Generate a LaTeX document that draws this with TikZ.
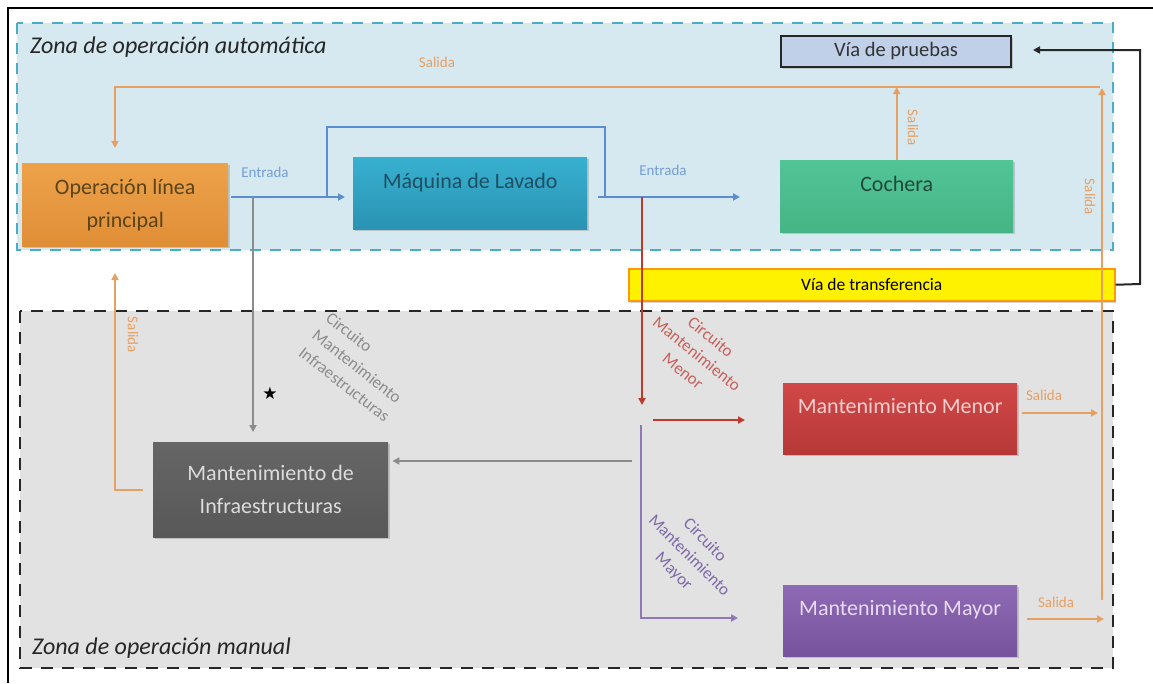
\documentclass[tikz,border=0pt]{standalone}
\usepackage{fontspec}
\setmainfont{Carlito}
\newfontfamily\symfont{DejaVu Sans}
\usetikzlibrary{arrows.meta,shadows}
\definecolor{zblue}{HTML}{D6E9F0}
\definecolor{zdash}{HTML}{4BACC6}
\definecolor{zgray}{HTML}{E2E2E2}
\definecolor{corange}{HTML}{E8A062}
\definecolor{cblue}{HTML}{5B8ED0}
\definecolor{cgray}{HTML}{8C8C8C}
\definecolor{cred}{HTML}{C0392B}
\definecolor{cpurple}{HTML}{8F78B8}
\definecolor{lred}{HTML}{C8605A}
\definecolor{lpurple}{HTML}{8068A8}
\definecolor{opT}{HTML}{EDA24A}
\definecolor{opB}{HTML}{E08E36}
\definecolor{opX}{HTML}{5A4418}
\definecolor{maT}{HTML}{38B0D0}
\definecolor{maB}{HTML}{2A93B3}
\definecolor{maX}{HTML}{1F4F63}
\definecolor{coT}{HTML}{52C496}
\definecolor{coB}{HTML}{46B585}
\definecolor{coX}{HTML}{1F4A3A}
\definecolor{inT}{HTML}{666666}
\definecolor{inB}{HTML}{585858}
\definecolor{inX}{HTML}{DCDCDC}
\definecolor{mnT}{HTML}{D04848}
\definecolor{mnB}{HTML}{B83838}
\definecolor{mnX}{HTML}{F2CFCF}
\definecolor{myT}{HTML}{8E6AB4}
\definecolor{myB}{HTML}{76539C}
\definecolor{myX}{HTML}{E8DAF4}
\definecolor{prF}{HTML}{BFD0E8}
\tikzset{
  zoneA/.style={fill=zblue, draw=zdash, line width=2pt, dash pattern=on 11pt off 9pt},
  zoneM/.style={fill=zgray, draw=black!85, line width=2.6pt, dash pattern=on 12pt off 9pt},
  box/.style={anchor=north west, inner sep=0pt, align=center,
    font=\fontsize{22}{33}\selectfont,
    drop shadow={shadow xshift=1.5pt, shadow yshift=-2pt, opacity=0.35}},
  upshift/.style={text height=15pt, text depth=25pt},
  tip/.style={-{Triangle[width=7pt,length=7pt]}},
  oline/.style={draw=corange, line width=2pt},
  bline/.style={draw=cblue, line width=2.4pt},
  gline/.style={draw=cgray, line width=2pt},
  rline/.style={draw=cred, line width=2pt},
  pline/.style={draw=cpurple, line width=2pt},
  kline/.style={draw=black!85, line width=2pt},
  olab/.style={text=corange, font=\fontsize{15}{15}\selectfont, inner sep=0pt},
  blab/.style={text=cblue!85, font=\fontsize{15}{15}\selectfont, inner sep=0pt},
  clab/.style={font=\fontsize{17}{22}\selectfont, inner sep=0pt},
  title/.style={anchor=west, inner sep=0pt, text=black!85, font=\fontsize{24}{28}\selectfont\itshape}
}
\begin{document}
\begin{tikzpicture}[x=1pt,y=-1pt]
\fill[white] (0,0) rectangle (1153,683);
\useasboundingbox (0,0) rectangle (1153,683);
% zones
\path[zoneA] (17,23) rectangle (1113,250);
\path[zoneM] (20,311) rectangle (1113,668);
\draw[line width=2.5pt] (8,683) -- (8,8) -- (1153,8);
\node[title] (tA) at (30,47) {Zona de operación automática};
\node[title] (tM) at (32,648) {Zona de operación manual};
% boxes
\node[box, minimum width=206pt, minimum height=83pt, top color=opT, bottom color=opB, text=opX] (op) at (22,163) {Operación línea\\principal};
\node[box, upshift, minimum width=234pt, minimum height=72pt, top color=maT, bottom color=maB, text=maX] (maq) at (353,157) {Máquina de Lavado};
\node[box, upshift, minimum width=233pt, minimum height=72pt, top color=coT, bottom color=coB, text=coX] (coch) at (780,160) {Cochera};
\node[box, minimum width=230pt, minimum height=31pt, fill=prF, draw=black!85, line width=2pt, font=\fontsize{20.5}{20.5}\selectfont, text=black!80, drop shadow={opacity=0}] (pru) at (780,35) {Vía de pruebas};
\node[box, minimum width=486pt, minimum height=32pt, fill=yellow, draw=orange!80!yellow, line width=1.5pt, font=\fontsize{17.5}{17.5}\selectfont, text=black, drop shadow={opacity=0}] (trans) at (628,268) {Vía de transferencia};
\node[box, minimum width=235pt, minimum height=95pt, top color=inT, bottom color=inB, text=inX] (infra) at (153,442) {Mantenimiento de\\Infraestructuras};
\node[box, upshift, minimum width=234pt, minimum height=71pt, top color=mnT, bottom color=mnB, text=mnX] (menor) at (783,383) {Mantenimiento Menor};
\node[box, upshift, minimum width=234pt, minimum height=71pt, top color=myT, bottom color=myB, text=myX] (mayor) at (783,585) {Mantenimiento Mayor};
% coordinates
\coordinate (topR) at (1100,87);
\coordinate (opIn) at (115,148);
\coordinate (rBot) at (1102,600);
\coordinate (mnOut) at (1098,413);
\coordinate (myOut) at (1104,619);
\coordinate (infOut) at (115,273);
\coordinate (b1) at (327,197);
\coordinate (b1t) at (327,127);
\coordinate (b2t) at (605,127);
\coordinate (b2) at (605,197);
\coordinate (g1) at (253,197);
\coordinate (g2) at (632,461);
\coordinate (r1) at (642,197);
\coordinate (r2) at (642,405);
\coordinate (r3) at (653,420);
\coordinate (p1) at (641,425);
\coordinate (p2) at (641,618);
\coordinate (k1) at (1140,284);
\coordinate (k2) at (1140,50);
% orange connectors
\draw[oline, tip] (topR) -| (opIn);
\draw[oline, tip] (coch.north) -- (coch.north |- topR);
\draw[oline, tip, shorten >=1pt] (rBot) -- (rBot |- topR);
\draw[oline, tip, shorten <=5pt] (menor.east |- mnOut) -- (mnOut);
\draw[oline, tip, shorten <=10pt] (mayor.east |- myOut) -- (myOut);
\draw[oline, tip, shorten <=10pt] (infra.west) -| (infOut);
% blue
\draw[bline, tip, shorten <=3pt, shorten >=8pt] (op.east |- b1) -- (maq.west |- b1);
\draw[bline] (b1) -- (b1t) -- (b2t) -- (b2);
\draw[bline, tip, shorten <=11pt, shorten >=40pt] (maq.east |- b2) -- (coch.west |- b2);
% gray
\draw[gline, tip, shorten >=10pt] (g1) -- (g1 |- infra.north);
\draw[gline, tip, shorten >=4pt] (g2) -- (infra.east |- g2);
% red
\draw[rline, tip] (r1) -- (r2);
\draw[rline, tip, shorten >=38pt] (r3) -- (menor.west |- r3);
% purple
\draw[pline, tip, shorten >=45pt] (p1) -- (p2) -- (mayor.west |- p2);
% black
\draw[kline, tip, shorten >=21pt] (trans.east) -- (k1) -- (k2) -- (pru.east |- k2);
% labels
\node[olab] (s1) at (437,62) {Salida};
\node[olab, rotate=-90] (s2) at (913,128) {Salida};
\node[olab, rotate=-90] (s3) at (1090,197) {Salida};
\node[olab, rotate=-90] (s4) at (133,335) {Salida};
\node[olab] (s5) at (1044,395) {Salida};
\node[olab] (s6) at (1056,602) {Salida};
\node[blab] (e1) at (265,172) {Entrada};
\node[blab] (e2) at (663,170) {Entrada};
\node[clab, text=cgray, rotate=-38, align=left] (ci) at (358,367) {Circuito\\Mantenimiento\\Infraestructuras};
\node[clab, text=lred, rotate=-39, align=center] (cm) at (697,354) {Circuito\\Mantenimiento\\Menor};
\node[clab, text=lpurple, rotate=-45, align=center] (cy) at (689,556) {Circuito\\Mantenimiento\\Mayor};
\node[inner sep=0pt, font=\symfont\fontsize{17}{17}\selectfont] (star) at (270,393) {★};
\end{tikzpicture}
\end{document}
